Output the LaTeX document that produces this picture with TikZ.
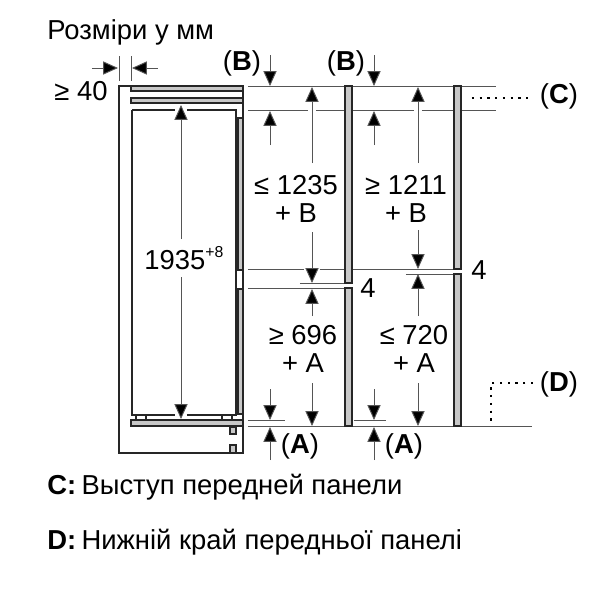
\documentclass[tikz,border=0pt]{standalone}
\usepackage{fontspec}
\setmainfont{Liberation Sans}
\usetikzlibrary{arrows.meta}
\definecolor{panelgray}{HTML}{C8C8C8}
\definecolor{dimgray}{HTML}{555555}
\tikzset{
  txt/.style={inner sep=0pt,font=\fontsize{15.6}{16}\selectfont,align=center},
  body/.style={draw=black!85,line width=0.95pt},
  panel/.style={draw=black!85,fill=panelgray,line width=0.95pt},
  thin line/.style={draw=dimgray,line width=0.55pt},
  dim/.style={draw=dimgray,line width=0.55pt,-{Triangle[width=7.5pt,length=8.5pt,fill=black]}},
  dots/.style={draw=black,line width=1.3pt,dash pattern=on 1.3pt off 3.1pt}
}
\begin{document}
\begin{tikzpicture}[x=0.02cm,y=-0.02cm]
  \useasboundingbox (0,0) rectangle (600,592);
  % headings
  \node[txt,anchor=west](title) at (47,32) {Розміри у мм};
  \node[txt,anchor=west](noteC) at (47,487) {\textbf{C:}\hspace{3pt}Выступ передней панели};
  \node[txt,anchor=west](noteD) at (47,542) {\textbf{D:}\hspace{3pt}Нижній край передньої панелі};
  % cabinet
  \draw[body] (119,86) rectangle (243,453);
  \draw[body] (132,110) -- (132,415) -- (175,415) (187,415) -- (236,415) -- (236,110) -- (187,110) (175,110) -- (132,110);
  \draw[panel] (131,86) rectangle (243,91);
  \draw[panel] (131,98) rectangle (243,103);
  \draw[panel] (238,118) rectangle (243,270);
  \draw[panel] (238,289) rectangle (243,414);
  \draw[panel] (131,420) rectangle (243,426);
  \draw[body,line width=0.6pt] (136,415) rectangle (146,420);
  \draw[body,line width=0.6pt] (222,415) rectangle (232,420);
  \draw[panel,line width=0.6pt] (230,427) rectangle (236,434);
  \draw[panel,line width=0.6pt] (230,445) rectangle (236,453);
  % 40 dimension
  \node[txt](gap) at (81,91) {≥ 40};
  \coordinate (GL) at (119,56);
  \coordinate (GLb) at (119,81);
  \coordinate (GR) at (131,56);
  \coordinate (GRb) at (131,81);
  \draw[thin line] (GL)--(GLb) (GR)--(GRb);
  \coordinate (GLs) at (92,68);
  \coordinate (GLe) at (118,68);
  \coordinate (GRs) at (158,68);
  \coordinate (GRe) at (132,68);
  \draw[dim] (GLs)--(GLe);
  \draw[dim] (GRs)--(GRe);
  % height
  \node[txt](height) at (184,258) {1935\raisebox{6.5pt}{\fontsize{9}{9}\selectfont+8}};
  \coordinate (Hu) at (181,239);
  \coordinate (Hd) at (181,277);
  \coordinate (Ht) at (181,105);
  \coordinate (Hb) at (181,419);
  \draw[dim] (Hu)--(Ht);
  \draw[dim] (Hd)--(Hb);
  % level lines
  \draw[thin line] (248,86)--(496,86);
  \draw[thin line] (248,110)--(308,110) (316,110)--(414,110) (422,110)--(496,110);
  \draw[thin line] (248,269)--(304,269) (320,269)--(454,269);
  \draw[thin line] (406,274)--(454,274);
  \draw[thin line] (300,283)--(345,283);
  \draw[thin line] (248,288)--(345,288);
  \draw[thin line] (248,420)--(285,420);
  \draw[thin line] (354,420)--(386,420);
  \draw[thin line] (248,426)--(532,426);
  % door panels
  \draw[panel] (345,86) rectangle (352,283);
  \draw[panel] (345,288) rectangle (352,426);
  \draw[panel] (454,86) rectangle (461,269);
  \draw[panel] (454,274) rectangle (461,426);
  % B and A clearances
  \begin{scope}[shift={(0,0)}]
    \node[txt](B) at (242,63) {(\textbf{B})};
    \node[txt](A) at (300,446) {(\textbf{A})};
    \coordinate (Bs) at (270,55);
    \coordinate (Be) at (270,86);
    \coordinate (Cs) at (270,145);
    \coordinate (Ce) at (270,111);
    \coordinate (As) at (270,389);
    \coordinate (Ae) at (270,420);
    \coordinate (Ds) at (270,460);
    \coordinate (De) at (270,427);
    \draw[dim] (Bs)--(Be);
    \draw[dim] (Cs)--(Ce);
    \draw[dim] (As)--(Ae);
    \draw[dim] (Ds)--(De);
  \end{scope}
  \begin{scope}[shift={(104,0)}]
    \node[txt](B) at (242,63) {(\textbf{B})};
    \node[txt](A) at (300,446) {(\textbf{A})};
    \coordinate (Bs) at (270,55);
    \coordinate (Be) at (270,86);
    \coordinate (Cs) at (270,145);
    \coordinate (Ce) at (270,111);
    \coordinate (As) at (270,389);
    \coordinate (Ae) at (270,420);
    \coordinate (Ds) at (270,460);
    \coordinate (De) at (270,427);
    \draw[dim] (Bs)--(Be);
    \draw[dim] (Cs)--(Ce);
    \draw[dim] (As)--(Ae);
    \draw[dim] (Ds)--(De);
  \end{scope}
  % column one
  \node[txt](upper) at (296,199) {≤ 1235\\+ B};
  \node[txt](lower) at (303,349) {≥ 696\\+ A};
  \node[txt](gapone) at (368,288) {4};
  \coordinate (Us) at (312,163);
  \coordinate (Ut) at (312,87);
  \coordinate (Ud) at (312,232);
  \coordinate (Ub) at (312,283);
  \coordinate (Ls) at (312,316);
  \coordinate (Lt) at (312,289);
  \coordinate (Ld) at (312,383);
  \coordinate (Lb) at (312,426);
  \draw[dim] (Us)--(Ut);
  \draw[dim] (Ud)--(Ub);
  \draw[dim] (Ls)--(Lt);
  \draw[dim] (Ld)--(Lb);
  % column two
  \node[txt](upper) at (406,199) {≥ 1211\\+ B};
  \node[txt](lower) at (414,349) {≤ 720\\+ A};
  \node[txt](gaptwo) at (479,270) {4};
  \coordinate (Us) at (418,163);
  \coordinate (Ut) at (418,87);
  \coordinate (Ud) at (418,230);
  \coordinate (Ub) at (418,269);
  \coordinate (Ls) at (418,316);
  \coordinate (Lt) at (418,274);
  \coordinate (Ld) at (418,383);
  \coordinate (Lb) at (418,426);
  \draw[dim] (Us)--(Ut);
  \draw[dim] (Ud)--(Ub);
  \draw[dim] (Ls)--(Lt);
  \draw[dim] (Ld)--(Lb);
  % C and D
  \node[txt](C) at (559,96) {(\textbf{C})};
  \node[txt](D) at (559,384) {(\textbf{D})};
  \coordinate (Cl) at (472,98);
  \coordinate (Cr) at (530,98);
  \draw[dots] (Cl)--(Cr);
  \coordinate (Dc) at (491,383);
  \coordinate (Dr) at (533,383);
  \coordinate (Db) at (491,426);
  \draw[dots] (Dr)--(Dc)--(Db);
\end{tikzpicture}
\end{document}
